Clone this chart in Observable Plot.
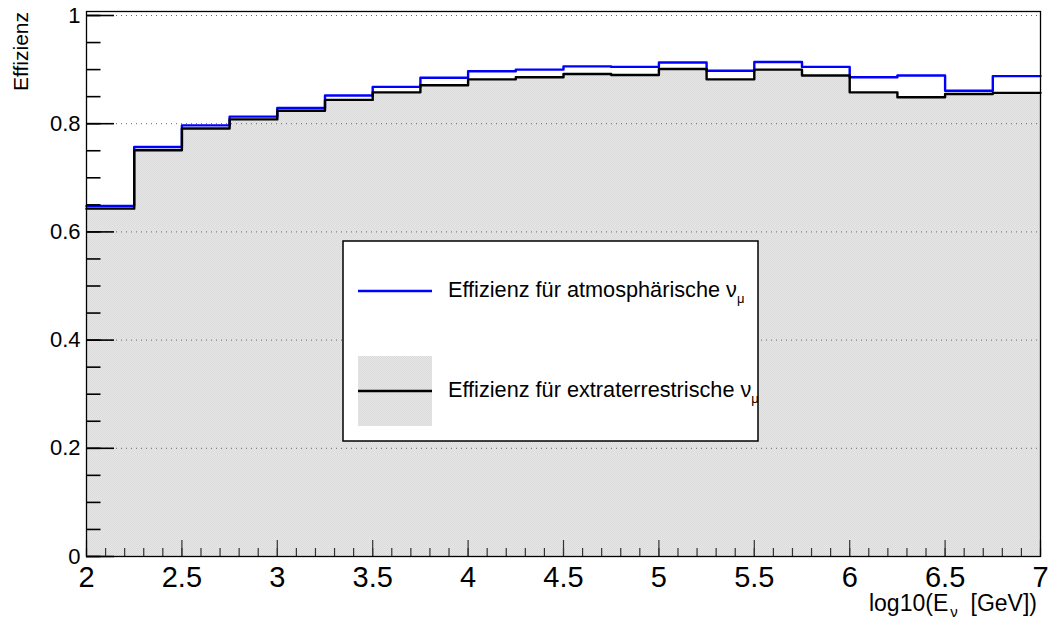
<!DOCTYPE html>
<html>
<head>
<meta charset="utf-8">
<script src="https://cdn.jsdelivr.net/npm/d3@7"></script>
<script src="https://cdn.jsdelivr.net/npm/@observablehq/plot@0.6"></script>
<style>
  html, body { margin: 0; padding: 0; background: #fff; }
  #chart svg { display: block; }
</style>
</head>
<body>
<div id="chart"></div>
<script>
// Lower edges of the energy bins, log10(E_nu / GeV), bin width 0.25
const binLow = [2.00, 2.25, 2.50, 2.75, 3.00, 3.25, 3.50, 3.75, 4.00, 4.25,
                4.50, 4.75, 5.00, 5.25, 5.50, 5.75, 6.00, 6.25, 6.50, 6.75];
const binWidth = 0.25;

// Efficiency for atmospheric nu_mu (blue histogram)
const effAtmo = [0.648, 0.757, 0.797, 0.813, 0.829, 0.852, 0.868, 0.885, 0.897, 0.900,
                 0.906, 0.905, 0.913, 0.898, 0.914, 0.905, 0.886, 0.889, 0.861, 0.888];

// Efficiency for extraterrestrial nu_mu (black histogram, grey fill)
const effExtra = [0.643, 0.751, 0.791, 0.808, 0.824, 0.844, 0.858, 0.871, 0.882, 0.886,
                  0.892, 0.890, 0.901, 0.882, 0.900, 0.889, 0.858, 0.849, 0.855, 0.857];

// Axis ticks
const xMajor = [2, 2.5, 3, 3.5, 4, 4.5, 5, 5.5, 6, 6.5, 7];
const yMajor = [0, 0.2, 0.4, 0.6, 0.8, 1];
const yGrid = [0.2, 0.4, 0.6, 0.8, 1];
const xMinor = d3.range(2, 7.0001, 0.1).map(v => +v.toFixed(2));
const yMinor = d3.range(0, 1.0001, 0.05).map(v => +v.toFixed(2));

const legendLabels = ["Effizienz für atmosphärische ", "Effizienz für extraterrestrische "];

const W = 1048, H = 621;
const mL = 86, mR = 8, mT = 11, mB = 65;
const plotW = W - mL - mR, plotH = H - mT - mB;
const font = "'Liberation Sans', Arial, Helvetica, sans-serif";

// Stepped outline points: one point per bin start plus the closing edge
function steps(values) {
  const pts = binLow.map((x, i) => ({x, y: values[i]}));
  pts.push({x: binLow[binLow.length - 1] + binWidth, y: values[values.length - 1]});
  return pts;
}
const atmoPts = steps(effAtmo);
const extraPts = steps(effExtra);

const chart = Plot.plot({
  width: W,
  height: H,
  marginLeft: mL,
  marginRight: mR,
  marginTop: mT,
  marginBottom: mB,
  style: {fontFamily: font, background: "#fff", color: "#000", overflow: "visible"},
  x: {domain: [2, 7]},
  y: {domain: [0, 1.0074]},
  marks: [
    Plot.areaY(extraPts, {x: "x", y: "y", curve: "step-after", fill: "url(#stipple)"}),
    Plot.ruleY(yGrid, {stroke: "#666", strokeWidth: 1, strokeDasharray: "1,4"}),
    Plot.line(atmoPts, {x: "x", y: "y", curve: "step-after", stroke: "#0000ff", strokeWidth: 2.4}),
    Plot.line(extraPts, {x: "x", y: "y", curve: "step-after", stroke: "#000", strokeWidth: 2.4}),
    // inward ticks
    Plot.tickY(yMinor, {y: d => d, insetRight: plotW - 14.5, stroke: "#000", strokeWidth: 1.6}),
    Plot.tickY(yMajor, {y: d => d, insetRight: plotW - 28, stroke: "#000", strokeWidth: 1.6}),
    Plot.tickX(xMinor, {x: d => d, insetTop: plotH - 8, stroke: "#333", strokeWidth: 1.2}),
    Plot.tickX(xMajor, {x: d => d, insetTop: plotH - 16, stroke: "#333", strokeWidth: 1.2}),
    Plot.axisY(yMajor, {tickSize: 0, tickPadding: 6, fontSize: 22, label: null,
      tickFormat: d => d === 0 ? "0" : d === 1 ? "1" : d.toFixed(1)}),
    Plot.axisX(xMajor, {tickSize: 0, tickPadding: 10, fontSize: 29, label: null,
      tickFormat: d => String(d)}),
    Plot.frame({stroke: "#000", strokeWidth: 1.3})
  ]
});

document.getElementById("chart").appendChild(chart);

const svg = d3.select(chart);

// Fine grey stipple used for the filled histogram
const defs = svg.insert("defs", ":first-child");
const pat = defs.append("pattern")
  .attr("id", "stipple")
  .attr("patternUnits", "userSpaceOnUse")
  .attr("width", 2).attr("height", 2);
pat.append("rect").attr("width", 2).attr("height", 2).attr("fill", "#e7e7e7");
pat.append("rect").attr("x", 0).attr("y", 0).attr("width", 1).attr("height", 1).attr("fill", "#dadada");
pat.append("rect").attr("x", 1).attr("y", 1).attr("width", 1).attr("height", 1).attr("fill", "#dadada");

// Y axis title
svg.append("text")
  .attr("transform", "translate(28,12) rotate(-90)")
  .attr("text-anchor", "end")
  .attr("font-family", font)
  .attr("font-size", 21)
  .text("Effizienz");

// X axis title with subscript nu
const xt = svg.append("text")
  .attr("x", 1037).attr("y", 611)
  .attr("text-anchor", "end")
  .attr("font-family", font)
  .attr("font-size", 23);
xt.append("tspan").text("log10(E");
xt.append("tspan").attr("font-size", 15).attr("dx", 2).attr("dy", 6).text("ν");
xt.append("tspan").attr("dy", -6).text("  [GeV])");

// Legend box
const lg = svg.append("g").attr("font-family", font).attr("text-anchor", "start");
lg.append("rect")
  .attr("x", 343).attr("y", 241).attr("width", 415).attr("height", 200)
  .attr("fill", "#fff").attr("stroke", "#000").attr("stroke-width", 1.5);
lg.append("line")
  .attr("x1", 358).attr("x2", 432).attr("y1", 291).attr("y2", 291)
  .attr("stroke", "#0000ff").attr("stroke-width", 2.4);
lg.append("rect")
  .attr("x", 358).attr("y", 356).attr("width", 74).attr("height", 70)
  .attr("fill", "url(#stipple)");
lg.append("line")
  .attr("x1", 358).attr("x2", 432).attr("y1", 391).attr("y2", 391)
  .attr("stroke", "#000").attr("stroke-width", 2.4);

[[legendLabels[0], 297], [legendLabels[1], 397]].forEach(([label, y]) => {
  const t = lg.append("text")
    .attr("x", 448).attr("y", y)
    .attr("text-anchor", "start")
    .attr("font-size", 21.7);
  t.append("tspan").text(label + "ν");
  t.append("tspan").attr("font-size", 13).attr("dy", 6).text("μ");
});
</script>
</body>
</html>
